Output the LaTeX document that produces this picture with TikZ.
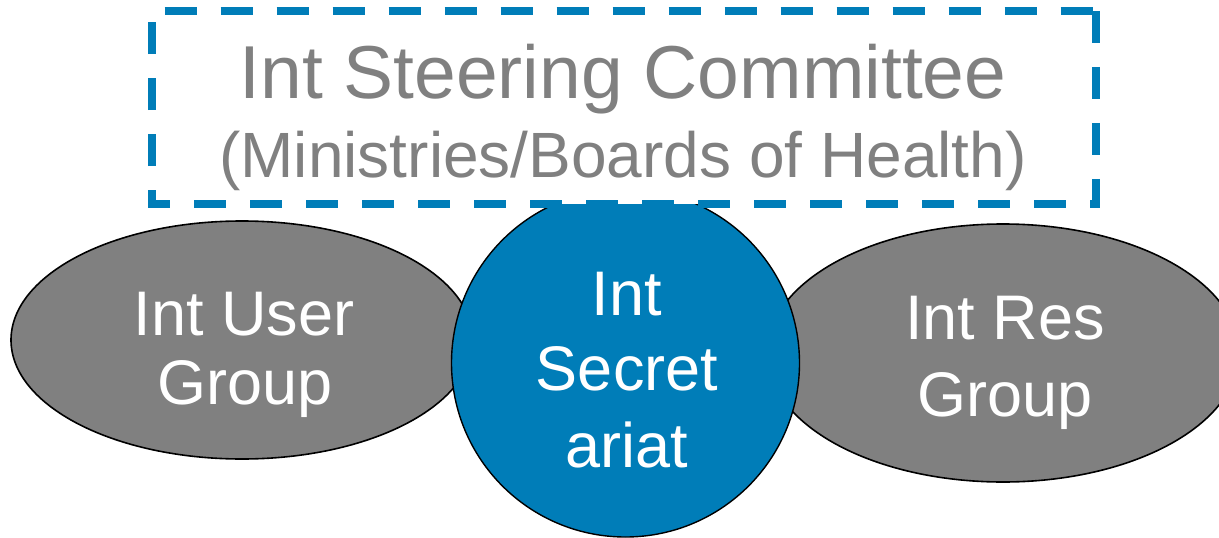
\documentclass[tikz,border=0pt]{standalone}
\usepackage{fontspec}
\setmainfont{Liberation Sans}
\usetikzlibrary{shapes.geometric}
\definecolor{ppblue}{RGB}{0,125,184}
\definecolor{ppgray}{RGB}{128,128,128}
\begin{document}
\begin{tikzpicture}[x=1pt,y=-1pt,
  grp/.style={ellipse, draw=black, fill=ppgray, line width=1.6pt, inner sep=0pt},
  secr/.style={circle, draw=black, fill=ppblue, line width=1.4pt, inner sep=0pt},
  dashbox/.style={draw=ppblue, line width=8pt, dash pattern=on 32pt off 24pt},
  wtxt/.style={text=white, font=\fontsize{63}{70}\selectfont, inner sep=0pt, anchor=base},
  gtxtA/.style={text=ppgray, font=\fontsize{75}{80}\selectfont, inner sep=0pt, anchor=base},
  gtxtB/.style={text=ppgray, font=\fontsize{64}{70}\selectfont, inner sep=0pt, anchor=base}]
\clip (0,0) rectangle (1219,538);
\node[grp, minimum width=462pt, minimum height=238pt] (user) at (242,340) {};
\node[grp, minimum width=472pt, minimum height=258pt] (res) at (1003,353) {};
\node[secr, minimum size=348pt] (sec) at (625.5,363) {};
\node[fill=white, minimum width=944pt, minimum height=193pt, inner sep=0pt] (box) at (624,107.5) {};
\draw[dashbox] (box.north east) -- (box.south east) -- (box.south west) -- (box.north west) -- cycle;
\node[gtxtA] (c1) at (623,98) {Int Steering Committee};
\node[gtxtB] (c2) at (623,177) {(Ministries/Boards of Health)};
\node[wtxt] (u1) at (244,335) {Int User};
\node[wtxt] (u2) at (245,404) {Group};
\node[wtxt] (r1) at (1005,339) {Int Res};
\node[wtxt] (r2) at (1005,416) {Group};
\node[wtxt] (s1) at (627,315) {Int};
\node[wtxt] (s2) at (627,390) {Secret};
\node[wtxt] (s3) at (627,467) {ariat};
\end{tikzpicture}
\end{document}
